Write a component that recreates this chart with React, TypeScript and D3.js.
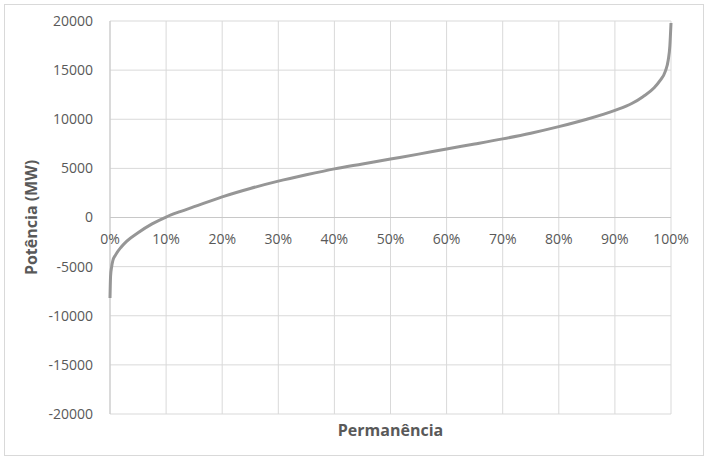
import * as React from 'react';
import * as d3 from 'd3';

// permanência (% do tempo) x potência (MW)
const PERM = [0, 0.1, 0.3, 0.5, 1, 2, 3, 5, 7.5, 10, 12.5, 15, 20, 25, 30, 35, 40, 45, 50, 55, 60, 65, 70, 75, 80, 85, 90, 93, 95, 97, 98, 99, 99.5, 99.8, 100];
const POWER = [-8200, -6000, -5000, -4400, -3800, -3000, -2400, -1550, -650, 50, 600, 1100, 2100, 2950, 3700, 4350, 4950, 5450, 5950, 6450, 6980, 7480, 8000, 8580, 9250, 10000, 10900, 11600, 12300, 13200, 13900, 14900, 16000, 17500, 19800];

const X_TICKS = [0, 10, 20, 30, 40, 50, 60, 70, 80, 90, 100];
const Y_TICKS = [-20000, -15000, -10000, -5000, 0, 5000, 10000, 15000, 20000];

const W = 712;
const H = 466;
const margin = { top: 21, right: 41, bottom: 52, left: 110 };
const FONT = '"Open Sans", "Noto Sans", sans-serif';
const TEXT = '#595959';
const GRID = '#d9d9d9';

export default function App() {
  const x = d3.scaleLinear().domain([0, 100]).range([margin.left, W - margin.right]);
  const y = d3.scaleLinear().domain([-20000, 20000]).range([H - margin.bottom, margin.top]);

  const points = PERM.map((p, i) => ({ p, v: POWER[i] }));
  const line = d3
    .line<{ p: number; v: number }>()
    .x((d) => x(d.p))
    .y((d) => y(d.v))
    .curve(d3.curveMonotoneX);

  return (
    <div style={{ position: 'absolute', left: 0, top: 0 }}>
      <svg width={W} height={H} style={{ display: 'block', background: '#fff' }}>
        <rect x={4.5} y={4.5} width={699} height={451} fill="#fff" stroke={GRID} />

        {/* grade */}
        {Y_TICKS.map((t) => (
          <line key={'gy' + t} x1={x(0)} x2={x(100)} y1={y(t)} y2={y(t)} stroke={GRID} />
        ))}
        {X_TICKS.map((t) => (
          <line key={'gx' + t} x1={x(t)} x2={x(t)} y1={y(20000)} y2={y(-20000)} stroke={GRID} />
        ))}
        <line x1={x(0)} x2={x(100)} y1={y(0)} y2={y(0)} stroke="#c8c8c8" />
        <line x1={x(0)} x2={x(0)} y1={y(20000)} y2={y(-20000)} stroke="#c8c8c8" />

        {/* rótulos */}
        {Y_TICKS.map((t) => (
          <text key={'ly' + t} x={x(0) - 17} y={y(t)} dy="0.35em" textAnchor="end"
            fontFamily={FONT} fontSize={14} fill={TEXT}>{t}</text>
        ))}
        {X_TICKS.map((t) => (
          <text key={'lx' + t} x={x(t)} y={y(0) + 22} dy="0.35em" textAnchor="middle"
            fontFamily={FONT} fontSize={14} fill={TEXT}>{t + '%'}</text>
        ))}

        <path d={line(points) || ''} fill="none" stroke="#969696" strokeWidth={3} strokeLinejoin="round" />

        <text x={(x(0) + x(100)) / 2} y={436} textAnchor="middle" fontFamily={FONT}
          fontSize={16} fontWeight="bold" fill={TEXT}>Permanência</text>
        <text transform={`translate(37, ${y(0)}) rotate(-90)`} textAnchor="middle" fontFamily={FONT}
          fontSize={16} fontWeight="bold" fill={TEXT}>Potência (MW)</text>
      </svg>
    </div>
  );
}
